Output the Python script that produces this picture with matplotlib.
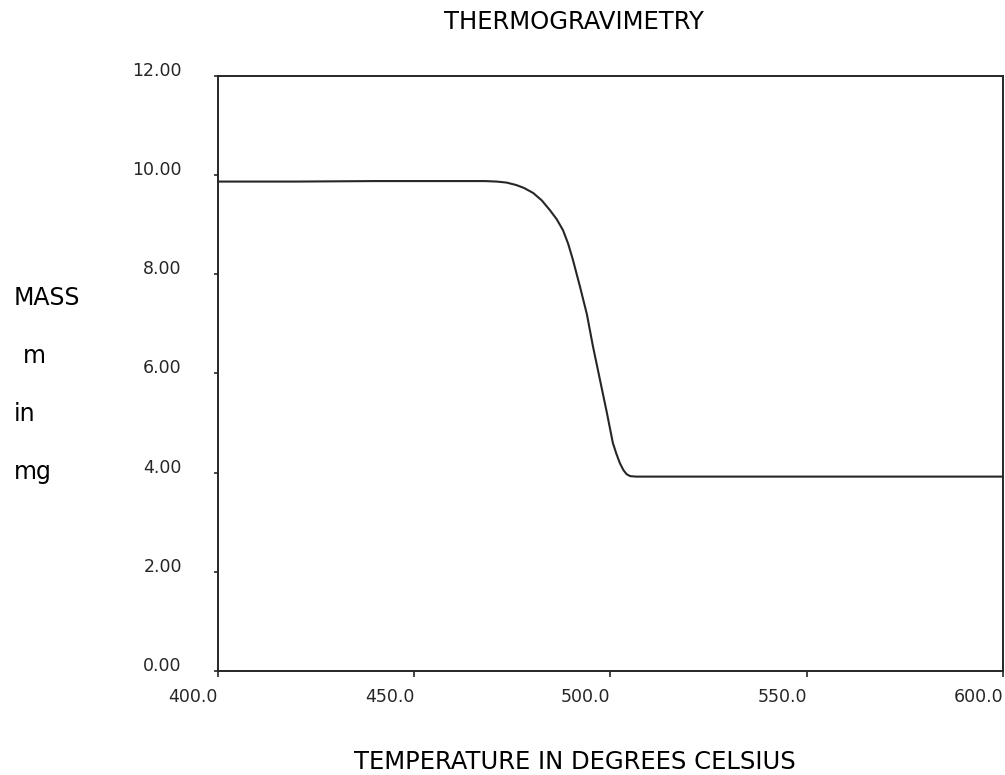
import numpy as np
import matplotlib.pyplot as plt
from matplotlib.ticker import FormatStrFormatter

plt.rcParams['font.family'] = ['DejaVu Sans']

# temperature (deg C) and mass (mg)
temperature = [400, 420, 440, 460, 468, 471, 473.5, 476, 478, 480.3, 482.5, 484.6, 486.3,
               487.9, 489.2, 490.4, 492.2, 494.0, 495.5, 497.3, 499.1, 500.6, 501.5,
               502.4, 503.3, 504.1, 505.0, 506.5, 520, 550, 580, 600]
mass = [9.87, 9.87, 9.88, 9.88, 9.88, 9.87, 9.85, 9.80, 9.74, 9.64, 9.49, 9.29, 9.11,
        8.89, 8.62, 8.30, 7.76, 7.19, 6.56, 5.88, 5.20, 4.60, 4.38,
        4.19, 4.05, 3.97, 3.93, 3.92, 3.92, 3.92, 3.92, 3.92]

x_ticks = [400, 450, 500, 550, 600]
y_ticks = [0, 2, 4, 6, 8, 10, 12]

fig = plt.figure(figsize=(10.05, 7.75), dpi=100)
ax = fig.add_axes([0.2169, 0.1342, 0.7811, 0.7678])

ax.plot(temperature, mass, color='#262626', lw=1.5)
ax.set_xlim(400, 600)
ax.set_ylim(0, 12)
ax.set_xticks(x_ticks)
ax.set_yticks(y_ticks)
ax.xaxis.set_major_formatter(FormatStrFormatter('%.1f'))
ax.yaxis.set_major_formatter(FormatStrFormatter('%.2f'))
ax.tick_params(axis='y', direction='out', length=3, width=1.2, pad=23, labelsize=12.5, colors='#262626')
ax.tick_params(axis='x', direction='out', length=4, width=1.2, pad=8, labelsize=12.5, colors='#262626')
for lab in ax.get_xticklabels():
    lab.set_ha('right')
for lab in ax.get_yticklabels():
    lab.set_va('baseline')
for sp in ax.spines.values():
    sp.set_linewidth(1.4)
    sp.set_color('#262626')

fig.text(0.571, 0.971, 'THERMOGRAVIMETRY', ha='center', va='center', fontsize=17.5)
fig.text(0.572, 0.017, 'TEMPERATURE IN DEGREES CELSIUS', ha='center', va='center', fontsize=17.5)

for label, xpix, ypix in [('MASS', 14, 298), ('m', 23, 356), ('in', 14, 414), ('mg', 14, 472)]:
    fig.text(xpix / 1005, 1 - ypix / 775, label, ha='left', va='center', fontsize=17)

fig.savefig('out.png', dpi=100)
